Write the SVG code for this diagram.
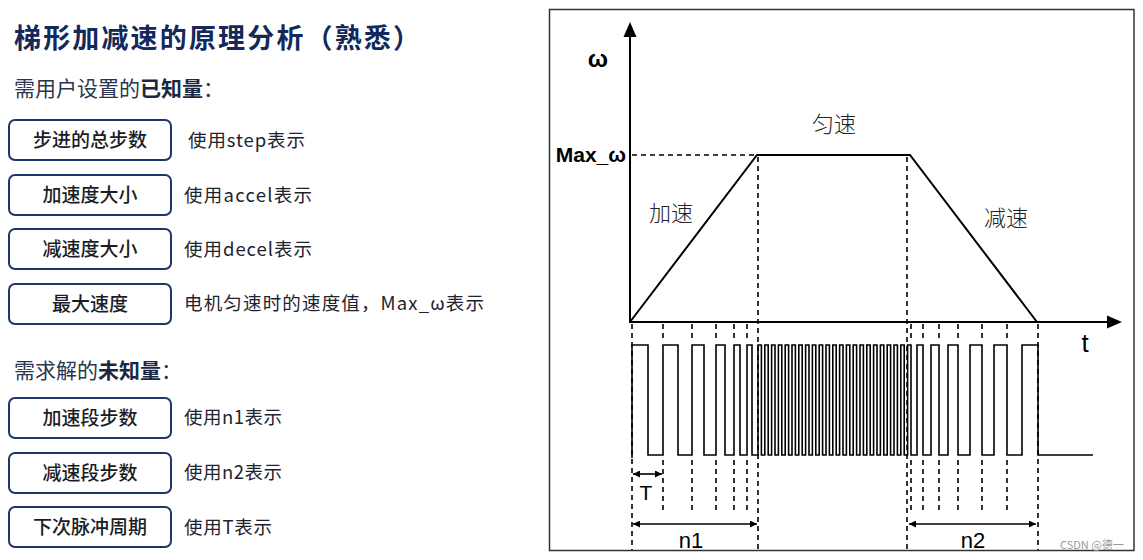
<svg xmlns="http://www.w3.org/2000/svg" width="1143" height="560" viewBox="0 0 1143 560">
<style>
.cjk{font-family:"Noto Sans CJK SC","Noto Sans",sans-serif}
.title{font-size:27px;font-weight:700;fill:#13295a}
.sub{font-size:21px;fill:#2a3650}
.sub .b{font-weight:700;fill:#1b2740}
.box rect{fill:#fff;stroke:#1f3768;stroke-width:2}
.box text{font-size:19px;font-weight:500;fill:#1a1d26;text-anchor:middle}
.desc{font-size:18.5px;fill:#1e2330}
.lat{font-family:"Liberation Sans",Arial,sans-serif}
.ln{stroke:#000;stroke-width:2;fill:none}
.pl{stroke:#000;stroke-width:1.6;fill:none}
.ax{stroke:#000;stroke-width:2;fill:none}
.dash{stroke:#000;stroke-width:1.6;stroke-dasharray:5,4;fill:none}
.lbl{font-size:22px;font-weight:300;fill:#222;text-anchor:middle}
</style>
<defs>
<marker id="ah" viewBox="0 0 10 10" refX="10" refY="5" markerWidth="7" markerHeight="7" markerUnits="userSpaceOnUse" orient="auto-start-reverse">
<path d="M0,0 L10,5 L0,10 z" fill="#000"/>
</marker>
</defs>
<rect width="1143" height="560" fill="#fff"/>

<!-- left panel -->
<text id="title" class="cjk title" x="14" y="48" textLength="406">梯形加减速的原理分析（熟悉）</text>
<text id="sub1" class="cjk sub" x="14" y="96">需用户设置的<tspan class="b">已知量</tspan>：</text>

<g id="n-step" class="box cjk"><rect x="9" y="120" width="162" height="40" rx="6"/><text x="90" y="147">步进的总步数</text></g>
<text id="d-step" class="cjk desc" x="188" y="147" textLength="117">使用step表示</text>

<g id="n-accel" class="box cjk"><rect x="9" y="175" width="162" height="40" rx="6"/><text x="90" y="202">加速度大小</text></g>
<text id="d-accel" class="cjk desc" x="184" y="202" textLength="128">使用accel表示</text>

<g id="n-decel" class="box cjk"><rect x="9" y="229" width="162" height="40" rx="6"/><text x="90" y="256">减速度大小</text></g>
<text id="d-decel" class="cjk desc" x="184" y="256" textLength="128">使用decel表示</text>

<g id="n-max" class="box cjk"><rect x="9" y="284" width="162" height="40" rx="6"/><text x="90" y="311">最大速度</text></g>
<text id="d-max" class="cjk desc" x="184" y="310" textLength="300">电机匀速时的速度值，Max_ω表示</text>

<text id="sub2" class="cjk sub" x="14" y="378">需求解的<tspan class="b">未知量</tspan>：</text>

<g id="n-n1" class="box cjk"><rect x="9" y="398" width="162" height="40" rx="6"/><text x="90" y="425">加速段步数</text></g>
<text id="d-n1" class="cjk desc" x="184" y="424" textLength="98">使用n1表示</text>

<g id="n-n2" class="box cjk"><rect x="9" y="453" width="162" height="40" rx="6"/><text x="90" y="480">减速段步数</text></g>
<text id="d-n2" class="cjk desc" x="184" y="479" textLength="98">使用n2表示</text>

<g id="n-T" class="box cjk"><rect x="9" y="507" width="162" height="40" rx="6"/><text x="90" y="534">下次脉冲周期</text></g>
<text id="d-T" class="cjk desc" x="184" y="534" textLength="88">使用T表示</text>

<!-- right panel -->
<rect id="panel" x="549.5" y="9.5" width="584.5" height="541" fill="none" stroke="#333" stroke-width="1.5"/>

<g id="connectors">
<!-- axes -->
<line class="ax" x1="630" y1="323" x2="630" y2="35"/>
<polygon points="630,22 623.5,37 636.5,37" fill="#000"/>
<line class="ax" x1="629" y1="322" x2="1108" y2="322"/>
<polygon points="1122,322 1107,315.5 1107,328.5" fill="#000"/>
<!-- trapezoid -->
<polyline class="ln" points="630,322 757,155 910,155 1037,322"/>
<line class="dash" x1="632" y1="155" x2="757" y2="155"/>
<!-- long dashed verticals -->
<line class="dash" x1="758" y1="157" x2="758" y2="550"/>
<line class="dash" x1="907" y1="157" x2="907" y2="550"/>
<line class="dash" x1="632" y1="324" x2="632" y2="550"/>
<line class="dash" x1="1038" y1="324" x2="1038" y2="550"/>
<!-- short dashed ticks -->
<g class="dash">
<path d="M663,324V342M692,324V342M716,324V342M734,324V342M747,324V342M911,324V342M923,324V342M939,324V342M958,324V342M982,324V342M1007,324V342"/>
<path d="M663,460V510M692,460V510M716,460V510M734,460V510M747,460V510M911,460V510M923,460V510M939,460V510M958,460V510M982,460V510M1007,460V510"/>
</g>
<!-- pulse train -->
<path class="pl" d="M632,458V345H648V455H663V345H678V455H692V345H704V455H716V345H725V455H734V345H740V455H747V345H752V455
H758V345H761.4V455H764.8V345H768.2V455H771.6V345H775V455H778.4V345H781.8V455H785.2V345H788.6V455H792V345H795.4V455H798.8V345H802.2V455H805.6V345H809V455H812.4V345H815.8V455H819.2V345H822.6V455H826V345H829.4V455H832.8V345H836.2V455H839.6V345H843V455H846.4V345H849.8V455H853.2V345H856.6V455H860V345H863.4V455H866.8V345H870.2V455H873.6V345H877V455H880.4V345H883.8V455H887.2V345H890.6V455H894V345H897.4V455H900.8V345H904.2V455H907.6V345H911V455
H917V345H923V455H931V345H939V455H948V345H958V455H970V345H982V455H994V345H1007V455H1022V345H1038V455H1093"/>
<!-- dimension arrows -->
<line x1="633" y1="474" x2="662" y2="474" stroke="#000" stroke-width="1.6" marker-start="url(#ah)" marker-end="url(#ah)"/>
<line x1="633" y1="524" x2="757" y2="524" stroke="#000" stroke-width="1.6" marker-start="url(#ah)" marker-end="url(#ah)"/>
<line x1="909" y1="524" x2="1036" y2="524" stroke="#000" stroke-width="1.6" marker-start="url(#ah)" marker-end="url(#ah)"/>
</g>

<g id="labels">
<text class="lat" x="598" y="67" font-size="24" font-weight="700" text-anchor="middle">ω</text>
<text class="lat" x="626" y="162" font-size="21" font-weight="700" text-anchor="end">Max_ω</text>
<text class="cjk lbl" x="834" y="132">匀速</text>
<text class="cjk lbl" x="671" y="221">加速</text>
<text class="cjk lbl" x="1006" y="226">减速</text>
<text class="lat" x="1085" y="352" font-size="26" text-anchor="middle">t</text>
<text class="lat" x="646" y="500" font-size="21" text-anchor="middle">T</text>
<text class="lat" x="691" y="548" font-size="22" text-anchor="middle">n1</text>
<text class="lat" x="973" y="548" font-size="22" text-anchor="middle">n2</text>
<text class="cjk" x="1060" y="549" font-size="11" fill="#9a9a9a">CSDN @德一</text>
</g>
</svg>
